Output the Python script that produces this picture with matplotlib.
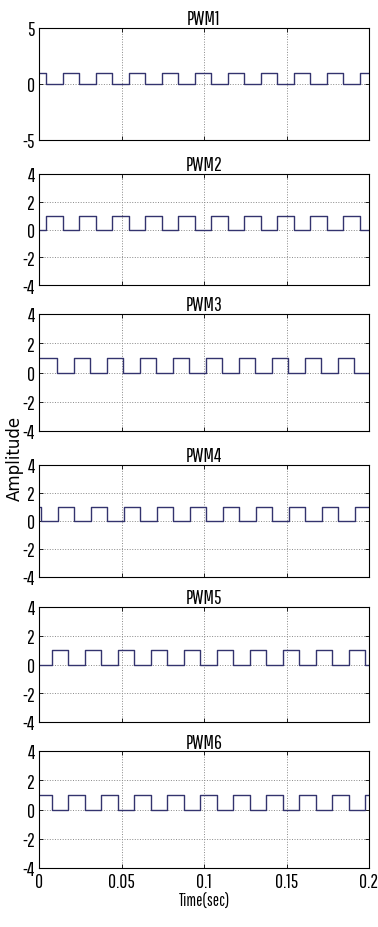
import matplotlib
matplotlib.use("Agg")
import matplotlib.pyplot as plt
from matplotlib import font_manager

# switching instants (s), and level at t=0
titles = ["PWM1", "PWM2", "PWM3", "PWM4", "PWM5", "PWM6"]
start_level = [1, 0, 1, 1, 0, 1]
switch_times = [
    [0.0045, 0.0145, 0.0245, 0.0345, 0.0445, 0.0545, 0.0645, 0.0745, 0.0845, 0.0945,
     0.1045, 0.1145, 0.1245, 0.1345, 0.1445, 0.1545, 0.1645, 0.1745, 0.1845, 0.1945],
    [0.0045, 0.0145, 0.0245, 0.0345, 0.0445, 0.0545, 0.0645, 0.0745, 0.0845, 0.0945,
     0.1045, 0.1145, 0.1245, 0.1345, 0.1445, 0.1545, 0.1645, 0.1745, 0.1845, 0.1945],
    [0.011, 0.021, 0.031, 0.041, 0.051, 0.061, 0.071, 0.081, 0.091, 0.101,
     0.111, 0.121, 0.131, 0.141, 0.151, 0.161, 0.171, 0.181, 0.191],
    [0.0013, 0.0113, 0.0213, 0.0313, 0.0413, 0.0513, 0.0613, 0.0713, 0.0813, 0.0913,
     0.1013, 0.1113, 0.1213, 0.1313, 0.1413, 0.1513, 0.1613, 0.1713, 0.1813, 0.1913],
    [0.0078, 0.0178, 0.0278, 0.0378, 0.0478, 0.0578, 0.0678, 0.0778, 0.0878, 0.0978,
     0.1078, 0.1178, 0.1278, 0.1378, 0.1478, 0.1578, 0.1678, 0.1778, 0.1878, 0.1978],
    [0.0078, 0.0178, 0.0278, 0.0378, 0.0478, 0.0578, 0.0678, 0.0778, 0.0878, 0.0978,
     0.1078, 0.1178, 0.1278, 0.1378, 0.1478, 0.1578, 0.1678, 0.1778, 0.1878, 0.1978],
]
y_limits = [5, 4, 4, 4, 4, 4]
x_ticks = [0, 0.05, 0.1, 0.15, 0.2]
x_ticklabels = ["0", "0.05", "0.1", "0.15", "0.2"]

plt.rcParams['axes.unicode_minus'] = False
names = {f.name for f in font_manager.fontManager.ttflist}
narrow = 'DejaVu Sans'
for cand in ['Pathway Gothic One', 'Sofia Sans Extra Condensed', 'Liberation Sans Narrow']:
    if cand in names:
        narrow = cand
        break

W, H = 378, 928
fig = plt.figure(figsize=(W / 100, H / 100), dpi=100)

tops = [29, 175, 315, 466, 608, 752]
bottoms = [141, 286, 432, 578, 723, 869]
left, right = 39, 369

for i in range(6):
    ax = fig.add_axes([left / W, 1 - bottoms[i] / H, (right - left) / W, (bottoms[i] - tops[i]) / H])
    # step trace from the switching instants
    t = [0.0]
    y = [start_level[i]]
    lvl = start_level[i]
    for s in switch_times[i]:
        t += [s, s]
        y += [lvl, 1 - lvl]
        lvl = 1 - lvl
    t.append(0.2)
    y.append(lvl)
    ax.plot(t, y, color='#33336e', lw=1.0)

    lim = y_limits[i]
    ax.set_xlim(0, 0.2)
    ax.set_ylim(-lim, lim)
    if lim == 5:
        ax.set_yticks([-5, 0, 5])
    else:
        ax.set_yticks([-4, -2, 0, 2, 4])
    ax.set_xticks(x_ticks)
    if i == 5:
        ax.set_xticklabels(x_ticklabels, fontfamily=narrow, fontsize=14)
        ax.set_xlabel("Time(sec)", fontfamily=narrow, fontsize=12, labelpad=1)
    else:
        ax.set_xticklabels([])
    for lab in ax.get_yticklabels():
        lab.set_fontfamily(narrow)
        lab.set_fontsize(14)
    ax.tick_params(direction='in', length=3, width=0.6, top=True, right=True, pad=3)
    ax.grid(True, linestyle=':', color='#888888', lw=0.7)
    for sp in ax.spines.values():
        sp.set_linewidth(0.8)
    ax.set_title(titles[i], fontfamily=narrow, fontsize=14, pad=2)

fig.text(15 / W, 1 - 458 / H, "Amplitude", rotation=90, ha='center', va='center', fontsize=12)

fig.savefig("out.png", dpi=100)
